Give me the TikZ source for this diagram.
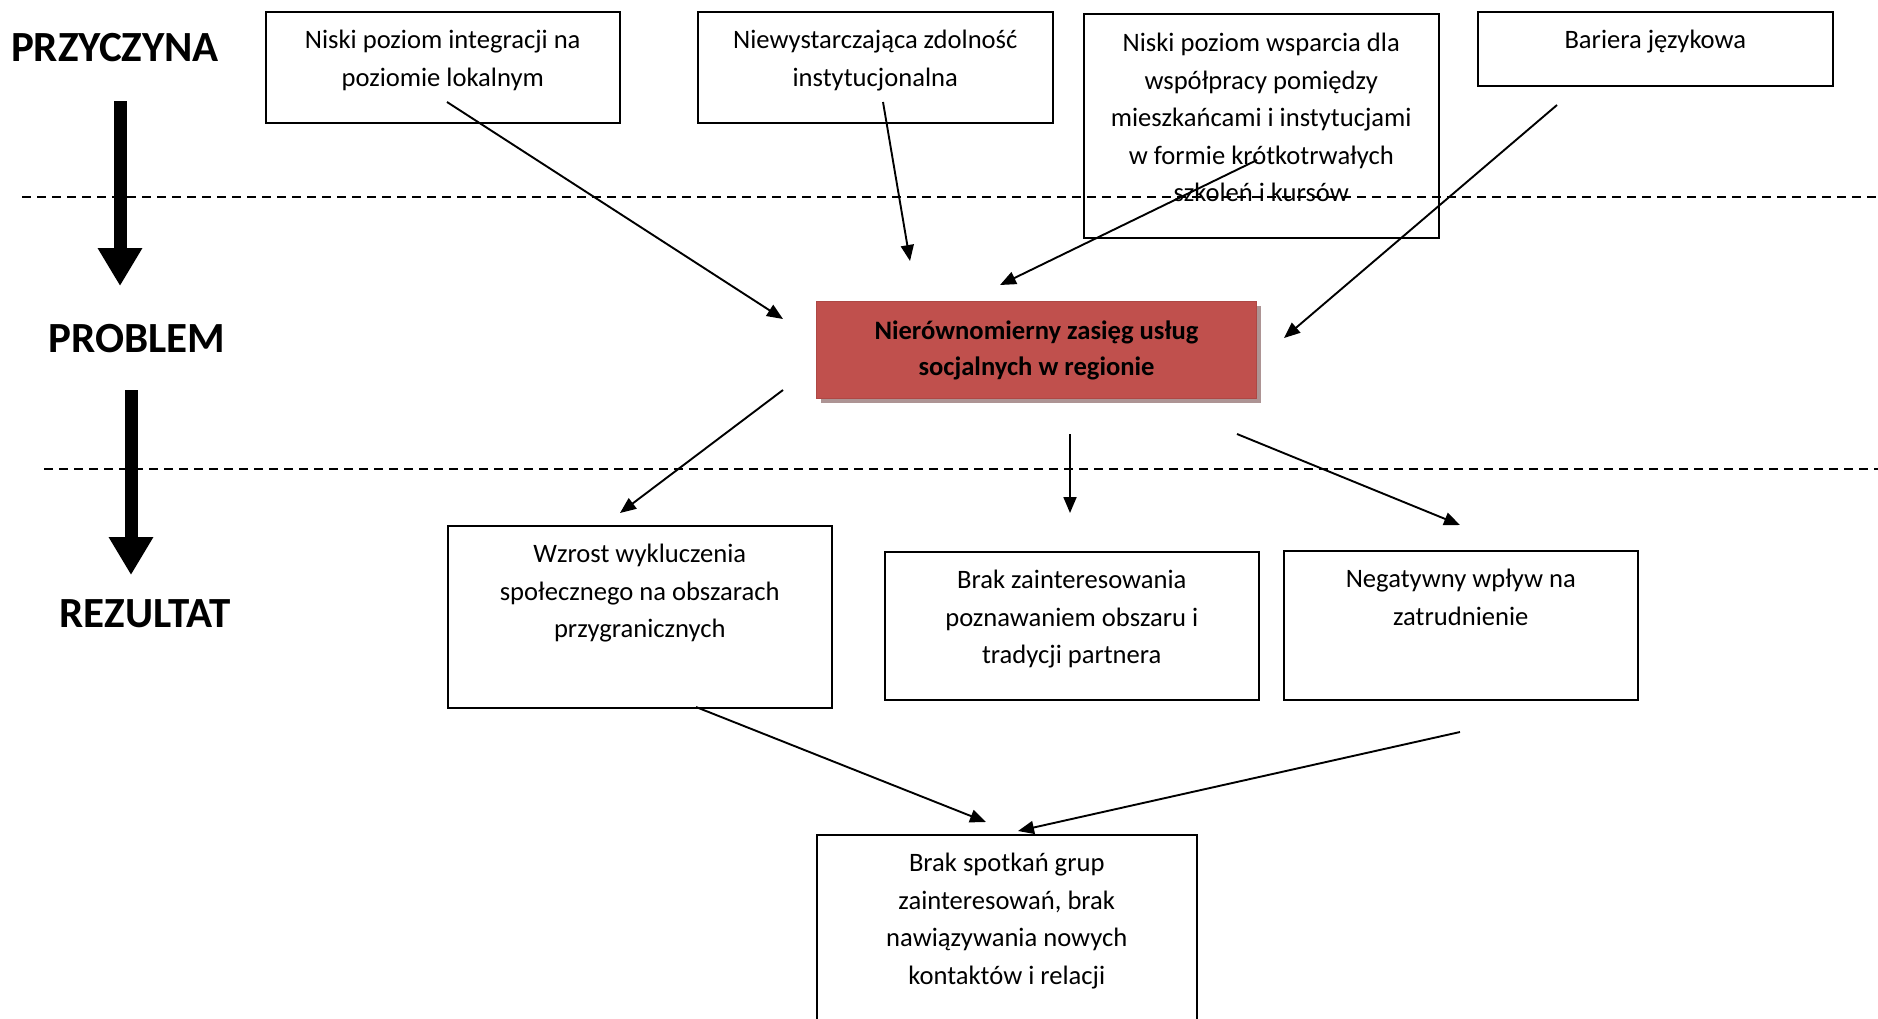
\documentclass[tikz,border=0pt]{standalone}
\usepackage{fontspec}
\setmainfont{Carlito}
\usetikzlibrary{arrows.meta,positioning,shadows}
\definecolor{probred}{HTML}{C0504D}
\definecolor{shadowc}{HTML}{AD9494}

\begin{document}
\begin{tikzpicture}[x=1pt, y=-1pt,
    box/.style={rectangle, draw, line width=1.5pt, anchor=north west, inner sep=0pt},
    txt/.style={align=center, font=\fontsize{26.6}{37.5}\selectfont, inner sep=0pt, anchor=north},
    problem/.style={rectangle, fill=probred, draw=probred!90!black, line width=1pt, anchor=north west, align=center,
        font=\fontsize{26.6}{36}\selectfont\bfseries, drop shadow={shadow xshift=4pt, shadow yshift=-4pt, fill=shadowc, opacity=1}},
    head/.style={font=\fontsize{43}{50}\selectfont\bfseries},
    arrow/.style={-{Triangle[length=16pt, width=13pt]}, line width=1.9pt},
    bigarrow/.style={-{Triangle[length=38pt, width=42pt]}, line width=13pt},
    sep/.style={dashed, dash pattern=on 9pt off 6pt, line width=1.3pt}]

    \clip (0,0) rectangle (1878,1018);

    % levels
    \node[head] (cause) at (115,48) {PRZYCZYNA};
    \node[head] (prob) at (137,339) {PROBLEM};
    \node[head] (result) at (145,614) {REZULTAT};
    \coordinate (big1s) at (120,101);
    \coordinate (big1e) at (120,286);
    \coordinate (big2s) at (131,390);
    \coordinate (big2e) at (131,575);
    \draw[bigarrow] (big1s) -- (big1e);
    \draw[bigarrow] (big2s) -- (big2e);

    \draw[sep] (22,197) -- (1878,197);
    \draw[sep] (44,469) -- (1878,469);

    % causes
    \node[box, minimum width=354, minimum height=111] (cause1) at (265,11) {};
    \node[box, minimum width=355, minimum height=111] (cause2) at (697,11) {};
    \node[box, minimum width=355, minimum height=224] (cause3) at (1083,13) {};
    \node[box, minimum width=355, minimum height=74] (cause4) at (1477,11) {};
    \node[txt, below=19pt of cause1.north] (cause1t) {Niski poziom integracji na\\poziomie lokalnym};
    \node[txt, below=19pt of cause2.north] (cause2t) {Niewystarczająca zdolność\\instytucjonalna};
    \node[txt, below=20pt of cause3.north] (cause3t) {Niski poziom wsparcia dla\\współpracy pomiędzy\\mieszkańcami i instytucjami\\w formie krótkotrwałych\\szkoleń i kursów};
    \node[txt, below=19pt of cause4.north] (cause4t) {Bariera językowa};

    % problem
    \node[problem, minimum width=440, minimum height=97] (core) at (816,301) {Nierównomierny zasięg usług\\socjalnych w regionie};

    % results
    \node[box, minimum width=384, minimum height=182] (res1) at (447,525) {};
    \node[box, minimum width=374, minimum height=148] (res2) at (884,551) {};
    \node[box, minimum width=354, minimum height=149] (res3) at (1283,550) {};
    \node[box, minimum width=380, minimum height=220] (effect) at (816,834) {};
    \node[txt, below=19pt of res1.north] (res1t) {Wzrost wykluczenia\\społecznego na obszarach\\przygranicznych};
    \node[txt, below=19pt of res2.north] (res2t) {Brak zainteresowania\\poznawaniem obszaru i\\tradycji partnera};
    \node[txt, below=19pt of res3.north] (res3t) {Negatywny wpływ na\\zatrudnienie};
    \node[txt, below=19pt of effect.north] (effectt) {Brak spotkań grup\\zainteresowań, brak\\nawiązywania nowych\\kontaktów i relacji};

    % arrow ends
    \coordinate (c1o) at (447,102);
    \coordinate (c1i) at (783,319);
    \coordinate (c2o) at (883,102);
    \coordinate (c2i) at (910,261);
    \coordinate (c3o) at (1257,160);
    \coordinate (c3i) at (1000,285);
    \coordinate (c4o) at (1557,105);
    \coordinate (c4i) at (1284,338);
    \coordinate (r1o) at (783,390);
    \coordinate (r1i) at (620,513);
    \coordinate (r2o) at (1070,434);
    \coordinate (r2i) at (1070,513);
    \coordinate (r3o) at (1237,434);
    \coordinate (r3i) at (1460,525);
    \coordinate (e1o) at (696,707);
    \coordinate (e1i) at (986,822);
    \coordinate (e2o) at (1460,732);
    \coordinate (e2i) at (1018,831);

    \draw[arrow] (c1o) -- (c1i);
    \draw[arrow] (c2o) -- (c2i);
    \draw[arrow] (c3o) -- (c3i);
    \draw[arrow] (c4o) -- (c4i);
    \draw[arrow] (r1o) -- (r1i);
    \draw[arrow] (r2o) -- (r2i);
    \draw[arrow] (r3o) -- (r3i);
    \draw[arrow] (e1o) -- (e1i);
    \draw[arrow] (e2o) -- (e2i);
\end{tikzpicture}
\end{document}
